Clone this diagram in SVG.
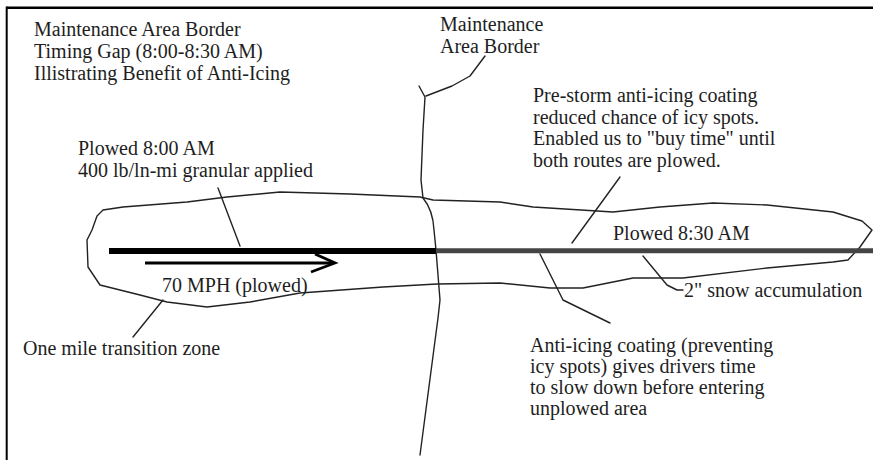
<svg xmlns="http://www.w3.org/2000/svg" width="873" height="460" viewBox="0 0 873 460">
<style>
text{font-family:"Liberation Serif","Times New Roman",serif;font-size:20px;fill:#1e1e1e}
.thin{fill:none;stroke:#222;stroke-width:1.4;stroke-linejoin:round;stroke-linecap:round}
</style>
<rect width="873" height="460" fill="#fff"/>
<g id="frame">
<line x1="6.7" y1="7.8" x2="873" y2="7.8" stroke="#000" stroke-width="2.4"/>
<line x1="6.7" y1="6.6" x2="6.7" y2="460" stroke="#000" stroke-width="2"/>
</g>
<g id="title">
<text x="34" y="36">Maintenance Area Border</text>
<text x="34" y="58">Timing Gap (8:00-8:30 AM)</text>
<text x="34" y="80">Illistrating Benefit of Anti-Icing</text>
</g>
<g id="transition-zone">
<path class="thin" d="M97,216 L103,210 L123,207 L187,202 L227,197 L280,192 L350,194 L420,197 L433,200 L500,202 L533,207 L613,212 L660,207 L713,203 L767,205 L833,212 L862,221 L872,230 L860,247 L848,260 L833,262 L767,268 L683,278 L633,278 L583,288 L550,288 L500,283 L437,284 L383,287 L300,293 L250,302 L207,307 L167,302 L140,295 L100,285 L88,267 L87,240 L92,230 Z"/>
</g>
<g id="border">
<path class="thin" d="M419,86 L425,97 L423,130 L421,180 L423,198 Q433,210 434,230 L436,250 L440,300 L438,318 L420,455"/>
</g>
<g id="road">
<line x1="435" y1="250.8" x2="873" y2="250.8" stroke="#444" stroke-width="5"/>
<line x1="109" y1="251" x2="436" y2="251" stroke="#000" stroke-width="6"/>
</g>
<g id="speed-arrow">
<line x1="145" y1="263" x2="333" y2="263" stroke="#000" stroke-width="2.8"/>
<polyline points="315,254 335,263 311,272" fill="none" stroke="#000" stroke-width="2.8" stroke-linejoin="miter"/>
<text x="162" y="292">70 MPH (plowed)</text>
</g>
<g id="connectors">
<path class="thin" d="M485,56 L470,76 L452,86 L426,96"/>
<path class="thin" d="M218,188 L240,246"/>
<path class="thin" d="M620,177 L572,243"/>
<path class="thin" d="M540,254 L563,300 L610,323"/>
<path class="thin" d="M643,256 L667,285 L677,290 L683,290"/>
<path class="thin" d="M133,337 L163,300"/>
</g>
<g id="label-border">
<text x="440" y="31">Maintenance</text>
<text x="440" y="53">Area Border</text>
</g>
<g id="label-prestorm">
<text x="533" y="102">Pre-storm anti-icing coating</text>
<text x="533" y="124">reduced chance of icy spots.</text>
<text x="533" y="145">Enabled us to "buy time" until</text>
<text x="533" y="167">both routes are plowed.</text>
</g>
<g id="label-plowed800">
<text x="78" y="155">Plowed 8:00 AM</text>
<text x="78" y="177">400 lb/ln-mi granular applied</text>
</g>
<g id="label-plowed830">
<text x="613" y="240">Plowed 8:30 AM</text>
</g>
<g id="label-snow">
<text x="684" y="297">2" snow accumulation</text>
</g>
<g id="label-transition">
<text x="23" y="355">One mile transition zone</text>
</g>
<g id="label-antiicing">
<text x="530" y="352">Anti-icing coating (preventing</text>
<text x="530" y="373">icy spots) gives drivers time</text>
<text x="530" y="394">to slow down before entering</text>
<text x="530" y="415">unplowed area</text>
</g>
</svg>
